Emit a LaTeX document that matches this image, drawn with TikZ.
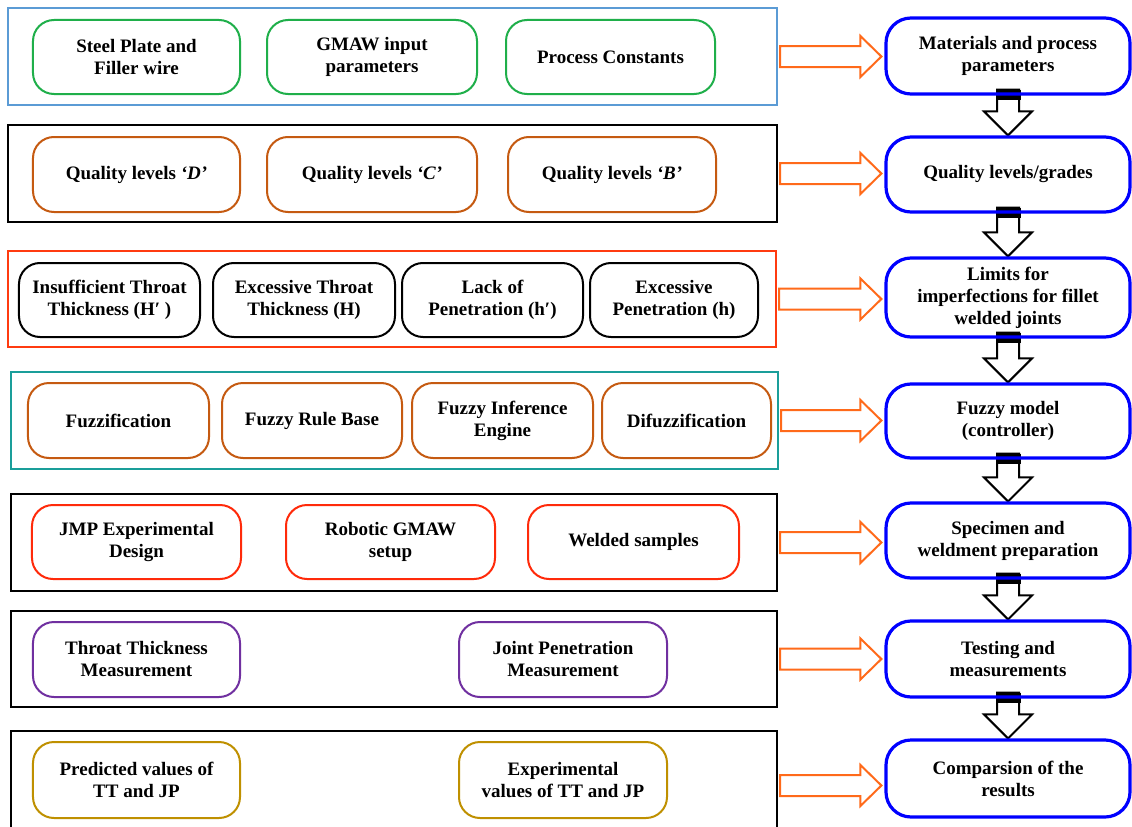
\documentclass[tikz,border=0pt]{standalone}
\usepackage{fontspec}
\setmainfont{Liberation Serif}
\usetikzlibrary{calc}
\pgfdeclarelayer{bg}
\pgfsetlayers{bg,main}
\definecolor{frameblue}{HTML}{5B9BD5}
\definecolor{boxgreen}{HTML}{1FAF4A}
\definecolor{boxbrown}{HTML}{C55A11}
\definecolor{framered}{HTML}{FF3B10}
\definecolor{frameteal}{HTML}{1A9E9A}
\definecolor{boxred}{HTML}{FF2A0A}
\definecolor{boxpurple}{HTML}{7030A0}
\definecolor{boxgold}{HTML}{BF9000}
\definecolor{arroworange}{HTML}{FF6A1A}
\definecolor{stageblue}{HTML}{0000FF}
\begin{document}
\begin{tikzpicture}[x=1bp,y=-1bp,
  wh/.style 2 args={minimum width=#1bp, minimum height=#2bp},
  frame/.style={draw, line width=2bp, rectangle, inner sep=0pt},
  item/.style={draw, line width=2bp, rounded corners=21bp, align=center, inner sep=0pt,
    font=\bfseries\fontsize{19bp}{22bp}\selectfont},
  stage/.style={draw=stageblue, line width=3.2bp, rounded corners=25bp, align=center,
    inner sep=0pt, minimum width=244bp, font=\bfseries\fontsize{19bp}{22bp}\selectfont},
  sidearrow/.style={draw=arroworange, line width=2bp, fill=white, line join=miter},
  downarrow/.style={draw=black, line width=2bp, fill=white, line join=miter},
]
\clip (0,0) rectangle (1132,827);
\begin{pgfonlayer}{bg}
\fill[white] (0,0) rectangle (1132,827);
\end{pgfonlayer}

% ---------- row frames ----------
\node[frame, draw=frameblue, wh={769}{97}] (f1) at (392.5,56.5) {};
\node[frame, draw=black,     wh={769}{97}] (f2) at (392.5,173.5) {};
\node[frame, draw=framered,  wh={768}{96}] (f3) at (392,299) {};
\node[frame, draw=frameteal, wh={767}{97}] (f4) at (394.5,420.5) {};
\node[frame, draw=black,     wh={766}{97}] (f5) at (394,542.5) {};
\node[frame, draw=black,     wh={766}{96}] (f6) at (394,659) {};
\node[frame, draw=black,     wh={766}{109}] (f7) at (394,785.5) {};

% ---------- row 1 ----------
\node[item, draw=boxgreen, wh={207}{74}] (a1) at (136.5,57) {Steel Plate and\\Filler wire};
\node[item, draw=boxgreen, wh={210}{74}] (a2) at (372,57) {GMAW input\\parameters};
\node[item, draw=boxgreen, wh={209}{74}] (a3) at (610.5,57) {Process Constants};

% ---------- row 2 ----------
\node[item, draw=boxbrown, wh={207}{75}] (b1) at (136.5,174.5) {Quality levels \textit{‘D’}};
\node[item, draw=boxbrown, wh={210}{75}] (b2) at (372,174.5) {Quality levels \textit{‘C’}};
\node[item, draw=boxbrown, wh={208}{75}] (b3) at (612,174.5) {Quality levels \textit{‘B’}};

% ---------- row 3 ----------
\node[item, draw=black, wh={181}{74}] (c1) at (109.5,300) {Insufficient Throat\\Thickness (H′ )};
\node[item, draw=black, wh={182}{74}] (c2) at (304,300) {Excessive Throat\\Thickness (H)};
\node[item, draw=black, wh={181}{74}] (c3) at (492.5,300) {Lack of\\Penetration (h′)};
\node[item, draw=black, wh={168}{74}] (c4) at (674,300) {Excessive\\Penetration (h)};

% ---------- row 4 ----------
\node[item, draw=boxbrown, wh={181}{75}] (d1) at (118.5,420.5) {Fuzzification};
\node[item, draw=boxbrown, wh={180}{75}] (d2) at (312,420.5) {Fuzzy Rule Base};
\node[item, draw=boxbrown, wh={181}{75}] (d3) at (502.5,420.5) {Fuzzy Inference\\Engine};
\node[item, draw=boxbrown, wh={169}{75}] (d4) at (686.5,420.5) {Difuzzification};

% ---------- row 5 ----------
\node[item, draw=boxred, wh={209}{74}] (e1) at (136.5,542) {JMP Experimental\\Design};
\node[item, draw=boxred, wh={209}{74}] (e2) at (390.5,542) {Robotic GMAW\\setup};
\node[item, draw=boxred, wh={211}{74}] (e3) at (633.5,542) {Welded samples};

% ---------- row 6 ----------
\node[item, draw=boxpurple, wh={207}{75}] (g1) at (136.5,659.5) {Throat Thickness\\Measurement};
\node[item, draw=boxpurple, wh={208}{75}] (g2) at (563,659.5) {Joint Penetration\\Measurement};

% ---------- row 7 ----------
\node[item, draw=boxgold, wh={207}{76}] (h1) at (136.5,780) {Predicted values of\\TT and JP};
\node[item, draw=boxgold, wh={208}{76}] (h2) at (563,780) {Experimental\\values of TT and JP};

% ---------- right column ----------
\node[stage, minimum height=76bp] (r1) at (1008,56) {Materials and process\\parameters};
\node[stage, minimum height=75bp] (r2) at (1008,174.5) {Quality levels/grades};
\node[stage, minimum height=79bp] (r3) at (1008,297.5) {Limits for\\imperfections for fillet\\welded joints};
\node[stage, minimum height=74bp] (r4) at (1008,421) {Fuzzy model\\(controller)};
\node[stage, minimum height=75bp] (r5) at (1008,540.5) {Specimen and\\weldment preparation};
\node[stage, minimum height=76bp] (r6) at (1008,659) {Testing and\\measurements};
\node[stage, minimum height=77bp] (r7) at (1008,778.5) {Comparsion of the\\results};

% ---------- side arrows ----------
\foreach \f/\r in {f1/r1,f2/r2,f3/r3,f4/r4,f5/r5,f6/r6,f7/r7}{
  \draw[sidearrow] ($(\f.east)+(2,-10.5)$)
    -- ($(\f.east -| \r.west)+(-24,-10.5)$)
    -- ($(\f.east -| \r.west)+(-24,-20.5)$)
    -- ($(\f.east -| \r.west)+(-3,0)$)
    -- ($(\f.east -| \r.west)+(-24,20.5)$)
    -- ($(\f.east -| \r.west)+(-24,10.5)$)
    -- ($(\f.east)+(2,10.5)$) -- cycle;
}

% ---------- down arrows ----------
\begin{pgfonlayer}{bg}
\foreach \a/\b in {r1/r2,r2/r3,r3/r4,r4/r5,r5/r6,r6/r7}{
  \draw[downarrow] ($(\a.south)+(-11,-6)$)
    -- ($(\b.north)+(-11,-24)$)
    -- ($(\b.north)+(-24,-24)$)
    -- (\b.north)
    -- ($(\b.north)+(24,-24)$)
    -- ($(\b.north)+(11,-24)$)
    -- ($(\a.south)+(11,-6)$) -- cycle;
  \fill[black] ($(\a.south)+(-12.5,-6)$) rectangle ($(\a.south)+(12.5,4)$);
}
\end{pgfonlayer}
\end{tikzpicture}
\end{document}
